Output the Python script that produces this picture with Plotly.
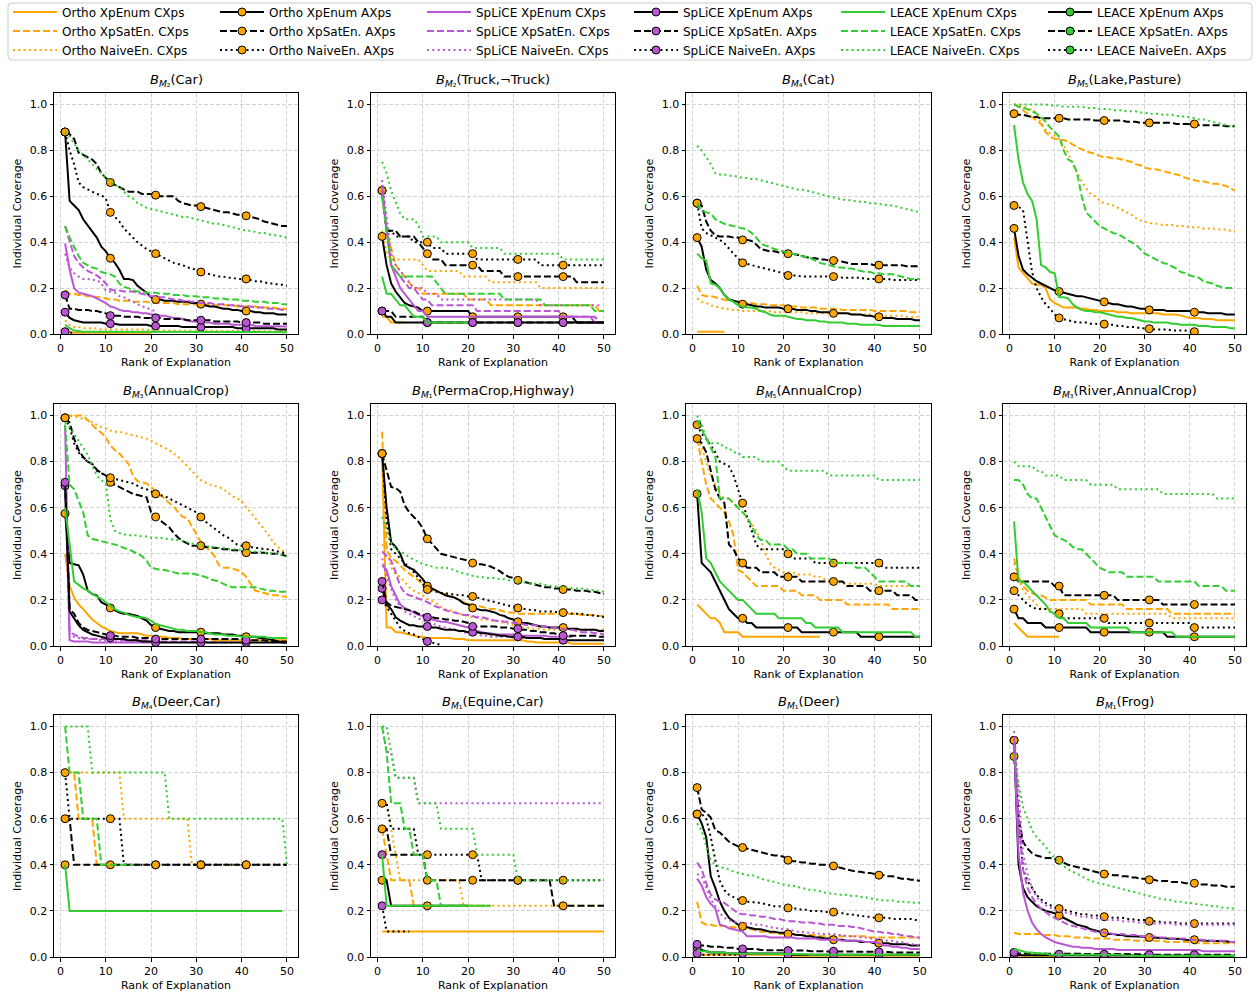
import plotly.graph_objects as go

W, H = 1256, 993

# Coverage values in percent; list index 0 = rank 1.
# Keys: method (O=Ortho, S=SpLiCE, L=LEACE) + variant (E=XpEnum, S=XpSatEn., N=NaiveEn.) + _C (CXps) / _A (AXps)

P_CAR = {
    "OE_C": [1.5, 1, 0.5, 0.5, 0.5, 0.5, 0.5, 0.5, 0.5, 0.5, 0.5, 0.5, 0.5, 0.5, 0.5, 0.5, 0.5, 0.5, 0.5, 0.5],
    "OS_C": [19, 17.5, 17.5, 17, 17, 16.5, 16.5, 16, 16, 15.5, 15, 15, 14.5, 14.5, 14.5, 14, 14, 14, 14, 13.5,
             13.5, 13.5, 13.5, 13.5, 13.5, 13, 13, 13, 13, 13, 13, 13, 13, 12.5, 12.5, 12.5, 12.5, 12.5, 12, 12,
             12, 12, 12, 11.5, 11.5, 11.5, 11.5, 11, 11, 11],
    "ON_C": [6, 4, 3, 3, 2.5, 2.5, 2.5, 2.5, 2, 2, 2, 2, 2, 2, 2, 2, 2, 2, 2, 1.5,
             1.5, 1.5, 1.5, 1.5, 1.5, 1.5, 1.5, 1.5, 1.5, 1.5, 1.5, 1.5, 1.5, 1.5, 1.5, 1.5, 1.5, 1.5, 1.5, 1.5,
             1.2, 1.2, 1.2, 1.2, 1.2, 1.2, 1.2, 1.2, 1.2, 1.2],
    "OE_A": [88, 58, 56, 54, 50, 47.5, 45, 42, 38, 36, 33, 31, 28, 24, 24, 23.5, 21, 19.5, 18, 16,
             15, 15, 14.5, 14.5, 14.5, 14, 14, 14, 13.5, 13.5, 13, 12.5, 12, 12, 11.5, 11, 11, 10.5, 10.5, 10,
             10, 10, 9.5, 9.5, 9, 9, 9, 8.5, 8.5, 8.5],
    "OS_A": [88, 87, 85, 79, 78, 77, 76, 74, 70, 68, 66, 65, 64, 63, 62, 62, 62, 61, 61, 61,
             60.5, 60, 60, 60, 60, 58, 57, 56.5, 56, 56, 55.5, 55, 54.5, 54, 53.5, 53, 53, 52.5, 52, 52,
             51.5, 51, 50.5, 50, 49, 48.5, 48, 47.5, 47, 47],
    "ON_A": [88, 80, 74, 66, 64, 63, 62, 61, 60.5, 59, 53, 51, 49, 46, 44, 42, 40, 38.5, 37, 36,
             35, 34, 33, 32, 31, 30.5, 30, 29, 28.5, 28, 27, 26.5, 26, 25.5, 25, 25, 24.5, 24.5, 24, 24,
             24, 23.5, 23, 23, 22.5, 22, 22, 21.5, 21.5, 21],
    "SE_C": [39.5, 28, 20, 18, 17.5, 17, 16.5, 15.5, 14.5, 13.5, 12, 11.5, 10.5, 10, 10, 9.5, 9.5, 9, 9, 8.5,
             8.5, 8, 8, 7.5, 7, 7, 6.5, 6, 5.5, 5.5, 5, 5, 5, 4.5, 4.5, 4.5, 4.5, 4, 4, 4,
             4, 4, 3.5, 3.5, 3.5, 3.5, 3.5, 3.5, 3.5, 3.3],
    "SS_C": [47, 41, 34, 31, 29, 27.5, 26.5, 25.5, 24, 22, 19.5, 19, 19, 18.5, 18.5, 18.5, 18, 17.5, 17, 16.5,
             16.5, 16, 16, 15.5, 15, 15, 14.5, 14.5, 14, 14, 13.5, 13.5, 13.5, 13, 13, 13, 12.5, 12.5, 12.5, 12,
             12, 12, 11.5, 11.5, 11.5, 11, 11, 11, 10.5, 10.5],
    "SN_C": [35, 29, 26.5, 25, 24, 24, 23.5, 23.5, 22, 19, 18.5, 18, 16.5, 16, 15, 14, 13, 12, 11.5, 10.5, 10],
    "SE_A": [9.5, 7, 6, 5.5, 5, 5, 5, 5, 5, 4.5, 4.5, 4.5, 4, 4, 4, 4, 4, 4, 4, 3.5,
             3.5, 3.5, 3.5, 3.5, 3.5, 3.5, 3, 3, 3, 3, 3, 3, 3, 3, 3, 3, 3, 3, 2.5, 2.5,
             2.5, 2.5, 2.5, 2.5, 2.5, 2.5, 2.5, 2, 2, 2],
    "SS_A": [17, 11, 11, 10.5, 10.5, 10.5, 10, 10, 9.5, 9, 8, 8, 8, 7.5, 7.5, 7.5, 7.5, 7, 7, 7,
             7, 7, 6.5, 6.5, 6.5, 6.5, 6.5, 6, 6, 6, 6, 6, 6, 5.5, 5.5, 5.5, 5.5, 5.5, 5.5, 5,
             5, 5, 5, 5, 4.5, 4.5, 4.5, 4.5, 4.5, 4.5],
    "SN_A": [1, 0.5, 0.5],
    "LE_C": [4, 2.5, 1.5, 1.2, 1, 1, 1, 1, 1, 1, 1, 1, 1, 1, 1, 1, 1, 1, 1, 1,
             0.8, 0.8, 0.8, 0.8, 0.8, 0.8, 0.8, 0.8, 0.8, 0.8, 0.8, 0.8, 0.8, 0.8, 0.8, 0.8, 0.8, 0.8, 0.8, 0.8,
             0.8, 0.8, 0.8, 0.8, 0.8, 0.8, 0.8, 0.8, 0.8, 0.8],
    "LS_C": [47, 42, 38, 34, 31, 30, 29, 28.5, 27, 26.5, 26, 25, 22, 20.5, 20, 19, 18.5, 18.5, 18, 18,
             18, 17.5, 17.5, 17.5, 17, 17, 17, 16.5, 16.5, 16.5, 16, 16, 16, 15.5, 15.5, 15.5, 15, 15, 15, 14.5,
             14.5, 14.5, 14, 14, 14, 13.5, 13.5, 13.5, 13, 13],
    "LN_C": [88, 86, 83, 80, 78, 76, 74, 72, 70, 68, 66, 65, 64, 62, 60, 59, 57, 56, 55, 54.5,
             54, 53.5, 53, 52.5, 52, 51.5, 51, 51, 50.5, 50, 49.5, 49, 48.5, 48, 48, 47.5, 47, 46.5, 46, 45.5,
             45, 45, 44.5, 44, 44, 43.5, 43, 43, 42.5, 42],
}

P_TRUCK = {
    "OE_C": [7.5, 7.5, 5, 5, 5, 5],
    "OS_C": [60, 45, 37.5, 30, 27.5, 25, 22.5, 20, 20, 17.5, 17.5, 17.5, 17.5, 17.5, 17.5, 17.5, 17.5, 17.5, 17.5, 15,
             15, 15, 15, 15, 12.5, 12.5, 12.5, 12.5, 12.5, 12.5, 12.5, 12.5, 12.5, 12.5, 12.5, 12.5, 12.5, 12.5, 12.5, 12.5,
             12.5, 12.5, 12.5, 12.5, 12.5, 12.5, 12.5, 12.5, 10, 10],
    "ON_C": [45, 35, 32.5, 32.5, 32.5, 32.5, 32.5, 32.5, 32.5, 30, 27.5, 27.5, 27.5, 27.5, 27.5, 27.5, 27.5, 27.5, 25, 25,
             25, 25, 25, 25, 22.5, 22.5, 22.5, 22.5, 22.5, 22.5, 22.5, 22.5, 22.5, 22.5, 22.5, 20, 20, 20, 20, 20,
             20, 20, 20, 20, 20, 20, 20, 20, 20, 20],
    "OE_A": [42.5, 30, 22, 18.5, 16, 13.5, 12.5, 12, 11.5, 10, 10, 10, 10, 10, 10, 10, 10, 10, 10, 10,
             7.5, 7.5, 7.5, 7.5, 7.5, 7.5, 7.5, 7.5, 7.5, 7.5, 7.5, 7.5, 7.5, 7.5, 7.5, 7.5, 7.5, 7.5, 7.5, 7.5,
             7.5, 7.5, 7.5, 5, 5, 5, 5, 5, 5, 5],
    "OS_A": [62.5, 45, 45, 45, 42.5, 42.5, 42.5, 42.5, 40, 37.5, 35, 32.5, 32.5, 32.5, 30, 30, 30, 30, 30, 30,
             30, 30, 27.5, 27.5, 27.5, 27.5, 27.5, 25, 25, 25, 25, 25, 25, 25, 25, 25, 25, 25, 25, 25,
             25, 25, 25, 22.5, 22.5, 22.5, 22.5, 22.5, 22.5, 22.5],
    "ON_A": [62.5, 45, 45, 42.5, 42.5, 42.5, 42.5, 40, 40, 40, 40, 37.5, 37.5, 37.5, 35, 35, 35, 35, 35, 35,
             35, 32.5, 32.5, 32.5, 32.5, 32.5, 32.5, 32.5, 32.5, 32.5, 32.5, 32.5, 32.5, 32.5, 32.5, 30, 30, 30, 30, 30,
             30, 30, 30, 30, 30, 30, 30, 30, 30, 30],
    "SE_C": [65, 45, 30, 25, 20, 17.5, 15, 12.5, 10, 10, 7.5, 7.5, 7.5, 7.5, 7.5, 7.5, 7.5, 7.5, 7.5, 7.5,
             7.5, 7.5, 7.5, 7.5, 7.5, 7.5, 7.5, 7.5, 7.5, 7.5, 7.5, 7.5, 7.5, 7.5, 7.5, 7.5, 7.5, 7.5, 7.5, 7.5,
             7.5, 7.5, 7.5, 7.5, 7.5, 7.5, 7.5, 5, 5, 5],
    "SS_C": [62.5, 45, 30, 27.5, 25, 22.5, 20, 20, 17.5, 15, 15, 12.5, 12.5, 12.5, 12.5, 12.5, 12.5, 12.5, 12.5, 12.5,
             12.5, 10, 10, 10, 10, 10, 10, 10, 10, 10, 10, 10, 10, 10, 10, 10, 10, 10, 10, 10,
             7.5, 7.5, 7.5, 7.5, 7.5, 7.5, 7.5, 7.5, 5, 5],
    "SN_C": [67, 50, 35, 30, 27.5, 25, 22.5, 20, 20, 20, 17.5, 17.5, 17.5, 15, 15, 15, 15, 15, 15, 15,
             15, 15, 15, 15, 15, 15, 15, 15, 15, 15, 15, 15, 15, 15, 15, 12.5, 12.5, 12.5, 12.5, 12.5,
             12.5, 12.5, 12.5, 12.5, 12.5, 12.5, 12.5, 12.5, 12.5],
    "SE_A": [10, 7.5, 7.5, 5, 5, 5, 5, 5, 5, 5, 5, 5, 5, 5, 5, 5, 5, 5, 5, 5,
             5, 5, 5, 5, 5, 5, 5, 5, 5, 5, 5, 5, 5, 5, 5, 5, 5, 5, 5, 5,
             5, 5, 5, 5, 5, 5, 5, 5, 5, 5],
    "SS_A": [10, 10, 10, 7.5, 7.5, 7.5, 7.5, 7.5, 7.5, 7.5, 5, 5, 5, 5, 5, 5, 5, 5, 5, 5,
             5, 5, 5, 5, 5, 5, 5, 5, 5, 5, 5, 5, 5, 5, 5, 5, 5, 5, 5, 5,
             5, 5, 5, 5, 5, 5, 5, 5, 5, 5],
    "LE_C": [25, 17.5, 17.5, 15, 12.5, 12.5, 10, 7.5, 7.5, 7.5, 5, 5, 5, 5, 5, 5, 5, 5, 5, 5],
    "LS_C": [60, 45, 30, 27.5, 25, 25, 25, 25, 25, 25, 25, 25, 22.5, 20, 17.5, 17.5, 17.5, 17.5, 17.5, 17.5,
             17.5, 17.5, 17.5, 17.5, 17.5, 17.5, 17.5, 15, 15, 15, 15, 15, 15, 15, 15, 15, 12.5, 12.5, 12.5, 12.5,
             12.5, 12.5, 12.5, 12.5, 12.5, 12.5, 12.5, 10, 10, 10],
    "LN_C": [75, 70, 62.5, 57.5, 52.5, 50, 50, 50, 47.5, 42.5, 42.5, 42.5, 42.5, 40, 40, 40, 40, 40, 40, 40,
             37.5, 37.5, 37.5, 37.5, 37.5, 37.5, 37.5, 35, 35, 35, 35, 35, 35, 35, 35, 35, 35, 35, 35, 35,
             32.5, 32.5, 32.5, 32.5, 32.5, 32.5, 32.5, 32.5, 32.5, 32.5],
}

P_CAT = {
    "OE_C": [1, 1, 1, 1, 1, 1, 1],
    "OS_C": [21, 17, 16.5, 16.5, 16, 15.5, 15, 14.5, 14.5, 14, 14, 13.5, 13.5, 13, 13, 13, 12.5, 12.5, 12.5, 12.5,
             12, 12, 12, 11.5, 11.5, 11.5, 11.5, 11, 11, 11, 11, 11, 10.5, 10.5, 10.5, 10.5, 10.5, 10.5, 10.5, 10,
             10, 10, 10, 10, 10, 10, 10, 9.5, 9.5, 9.5],
    "ON_C": [15.5, 14, 13.5, 12.5, 12, 11.5, 11, 11, 10.5, 10.5, 10, 10, 10, 10, 10, 10, 10, 9.5, 9.5, 9.5,
             9.5, 9.5, 9.5, 9.5, 9, 9, 9, 9, 9, 9, 9, 9, 9, 9, 9, 8.5, 8.5, 8.5, 8.5, 8.5,
             8.5, 8, 8, 8, 8, 8, 7.5, 7.5, 7.5, 7.5],
    "OE_A": [42, 38, 28, 23.5, 22, 20, 17, 15, 14.5, 14, 13, 13, 12.5, 12, 12, 11.5, 11.5, 11.5, 11.5, 11,
             11, 11, 10.5, 10.5, 10.5, 10, 10, 9.5, 9.5, 9.5, 9, 9, 9, 9, 8.5, 8.5, 8.5, 8, 8, 7.5,
             7.5, 7, 7, 7, 6.5, 6.5, 6.5, 6.5, 6, 6],
    "OS_A": [57, 56, 49, 45, 43, 42.5, 42.5, 42.5, 42, 42, 41, 41, 40.5, 39, 37, 36.5, 36, 36, 35.5, 35.5,
             35, 35, 34.5, 34, 33.5, 33, 33, 32.5, 32.5, 32, 32, 32, 31.5, 31, 30.5, 30.5, 30.5, 30.5, 30.5, 30,
             30, 30, 30, 30, 30, 30, 29.5, 29.5, 29.5, 29.5],
    "ON_A": [57, 46, 44, 43, 42, 41, 39.5, 37, 35, 33, 31, 30.5, 30, 29.5, 29, 28.5, 28, 27.5, 27, 26.5,
             25.5, 25.5, 25.5, 25, 25, 25, 25, 25, 25, 25, 25, 25, 24.5, 24.5, 24.5, 24.5, 24.5, 24, 24, 24,
             24, 24, 24, 23.5, 23.5, 23.5, 23.5, 23.5, 23.5, 23.5],
    "LE_C": [35, 33, 32, 22, 21.5, 20, 17, 15, 14, 12.5, 12, 11.5, 11.5, 11, 10, 9.5, 8.5, 8, 8, 8,
             7.5, 7, 6.5, 6.5, 6, 6, 6, 5.5, 5.5, 5, 5, 5, 5, 4.5, 4.5, 4.5, 4, 4, 4, 4,
             4, 3.5, 3.5, 3.5, 3.5, 3.5, 3.5, 3.5, 3.5, 3.5],
    "LS_C": [57, 54, 53, 52.5, 50, 49, 48, 47.5, 47, 46.5, 46, 45.5, 44, 42, 39.5, 38.5, 38, 37, 36.5, 36,
             35.5, 35, 34.5, 34, 33.5, 33, 32, 31, 30.5, 30, 29.5, 29, 29, 28.5, 28.5, 28, 27.5, 27, 27, 26.5,
             26.5, 26, 26, 26, 25.5, 25, 24.5, 24, 24, 24],
    "LN_C": [82, 80, 77, 74, 70, 69.5, 69.5, 69, 69, 68.5, 68, 68, 67.5, 67.5, 67, 66.5, 66, 65.5, 65, 64.5,
             64, 63.5, 63, 63, 62.5, 62, 61.5, 61, 60.5, 60, 59.5, 59, 58.5, 58.5, 58, 58, 57.5, 57.5, 57, 57,
             56.5, 56.5, 56, 56, 55.5, 55, 54.5, 54, 53.5, 53],
}

P_LAKE = {
    "OE_C": [42, 29, 26.5, 24, 22, 21.5, 21.5, 20, 15, 13.5, 12.5, 11.5, 11.5, 11.5, 11.5, 11, 11, 10.5, 10.5, 10,
             10, 10, 10, 9.5, 9.5, 9.5, 9, 9, 9, 9, 9, 9, 9, 8.5, 8.5, 8.5, 8.5, 8, 7.5, 7,
             7, 7, 6.5, 6.5, 6.5, 6, 6, 6, 6, 6],
    "OS_C": [100, 99, 97.5, 96, 94.5, 93, 91.5, 88, 86, 85, 84.5, 84.5, 84, 82.5, 81.5, 80.5, 79.5, 79, 78.5, 77.5,
             77, 77, 76.5, 76.5, 76, 75.5, 75, 74, 73.5, 72.5, 72, 72, 71.5, 71, 70.5, 70, 69.5, 69, 68, 67.5,
             67, 66.5, 66.5, 66, 65.5, 65.5, 65, 64.5, 63.5, 62.5],
    "ON_C": [100, 99.5, 99, 98.5, 97.5, 96.5, 92, 89, 87.5, 86.5, 85, 82, 79, 74, 70, 66.5, 63.5, 61, 60, 58,
             57, 56.5, 56, 55, 54, 53, 52, 50.5, 49.5, 49, 48.5, 48, 48, 47.5, 47.5, 47.5, 47, 47, 47, 46.5,
             46.5, 46.5, 46, 46, 46, 45.5, 45.5, 45.5, 45, 45],
    "OE_A": [46, 34, 28, 26, 24.5, 23, 22, 21, 20, 19, 18.5, 18, 17.5, 17, 16.5, 16.5, 16, 15.5, 15, 14.5,
             14, 13.5, 13, 13, 12.5, 12, 12, 11.5, 11, 11, 10.5, 10.5, 10.5, 10.5, 10, 10, 10, 10, 10, 10,
             9.5, 9.5, 9.5, 9, 9, 9, 9, 8.5, 8.5, 8.5],
    "OS_A": [96, 95.5, 95.5, 95, 94.5, 94.5, 94, 94, 94, 94, 94, 94, 93.5, 93.5, 93.5, 93.5, 93.5, 93.5, 93, 93,
             93, 93, 93, 93, 93, 92.5, 92.5, 92.5, 92, 92, 92, 92, 92, 92, 92, 92, 91.5, 91.5, 91.5, 91.5,
             91.5, 91, 91, 91, 91, 91, 91, 90.5, 90.5, 90.5],
    "ON_A": [56, 55.5, 54, 40, 27, 20, 16, 13, 11, 8.5, 7, 6.5, 6, 5.5, 5, 5, 5, 4.5, 4.5, 4.5,
             4.3, 4, 4, 3.5, 3.5, 3, 3, 3, 2.5, 2.5, 2.3, 2, 2, 2, 2, 1.5, 1.5, 1.5, 1.5, 1,
             1, 1],
    "LE_C": [91, 76, 66, 61, 58, 50, 30, 29, 27, 26.5, 16, 16, 15.5, 13, 11.5, 10.5, 10, 10, 9.5, 9.5,
             9, 8.5, 8, 7.5, 7.5, 7, 7, 6.5, 6, 5.5, 5.5, 5, 5, 5, 5, 4.5, 4.5, 4, 4, 4,
             4, 3.5, 3.5, 3.5, 3, 3, 3, 3, 2.5, 2.5],
    "LS_C": [100, 99, 98.5, 98, 97, 96, 94.5, 92.5, 90, 88, 86, 80, 76, 75, 70, 60, 53, 51, 49, 47,
             46, 45, 44, 43.5, 42.5, 41, 40, 39, 37, 35, 34, 33, 32, 31, 30.5, 29.5, 28.5, 27, 26.5, 25.5,
             25, 24.5, 23, 22.5, 22, 21, 20.5, 20, 20, 20],
    "LN_C": [100, 100, 100, 100, 100, 100, 100, 100, 99.5, 99.5, 99.5, 99, 99, 99, 99, 99, 98.5, 98.5, 98.5, 98,
             98, 98, 97.5, 97.5, 97.5, 97, 97, 97, 96.5, 96.5, 96, 96, 96, 95.5, 95.5, 95.5, 95, 95, 94.5, 94.5,
             94, 93.5, 93.5, 93, 92.5, 92, 91.5, 91, 90.5, 90.5],
}

P_ANNUAL3 = {
    "OE_C": [40, 26, 21, 18, 16, 13.5, 11.5, 10, 8.5, 7.5, 6.5, 6, 5.5, 5.5, 5.5, 5.5, 5.5, 5, 4.5, 4.5,
             4, 4, 4, 3.5, 3.5, 3.5, 3, 3, 3, 3, 3, 3, 3, 2.5, 2.5, 2.5, 2.5, 2.5, 2.5, 2.5,
             2.5, 2.5, 2.5, 2.5, 2.5, 2.5, 2.5, 2.5, 2.5, 2.5],
    "OS_C": [100, 100, 100, 100, 100, 98, 96, 94, 92.5, 90.5, 87, 85, 83.5, 81, 79, 74, 71.5, 71, 70.5, 69,
             67, 65.5, 64, 62, 60.5, 58, 56, 55.5, 52, 48, 45, 43, 41.5, 39, 35, 34, 34, 33.5, 33, 32,
             30, 27, 24, 23.5, 23, 22.5, 22, 22, 21.5, 21.5],
    "ON_C": [100, 100, 99.5, 99, 98.5, 98, 97, 96, 95, 94.5, 93.5, 93, 93, 92.5, 92, 91.5, 91, 90.5, 90, 89,
             88, 87, 86, 85, 83.5, 82, 80, 78, 76, 74, 72, 71, 70, 69.5, 69, 68, 66.5, 65, 64, 63,
             60, 58, 55.5, 53, 51, 48, 45, 43, 41.5, 40],
    "OE_A": [57.5, 36, 35.5, 35, 31, 24, 22.5, 22, 19, 18, 16.5, 15.5, 14.5, 14, 14, 13.5, 13, 12, 11, 9,
             8, 7.5, 7, 6.5, 6.5, 6, 6, 6, 6, 6, 6, 5.5, 5.5, 5.5, 5.5, 5, 5, 5, 4.5, 4.5,
             4, 4, 4, 3.5, 3.5, 3, 2.5, 2, 1.5, 1.5],
    "OS_A": [99, 97, 90, 85, 82, 80, 79, 76.5, 75, 74, 71, 70, 69, 68, 67, 66, 65.5, 65, 64.5, 58,
             56, 54.5, 53, 51.5, 49, 47, 45.5, 44.5, 43.5, 43.5, 43.5, 43, 43, 42.5, 42.5, 42, 42, 41.5, 41.5, 41,
             40.5, 40.5, 40.5, 40.5, 40.5, 40, 40, 40, 39.5, 39],
    "ON_A": [99, 95, 88, 84, 81.5, 80, 79, 76, 75, 74, 73, 72.5, 72, 71.5, 71, 70.5, 69.5, 68.5, 68, 67,
             66, 65.5, 65, 64, 63, 62, 61, 60, 59, 58, 56, 54, 52.5, 51, 49.5, 48, 47, 45.5, 44, 43.5,
             43.5, 43, 42.5, 42.5, 42, 42, 41.5, 41, 40.5, 40],
    "SE_C": [96, 2.5, 2, 2, 2, 2, 1.5, 1.5, 1.5, 1.5, 1.5, 1.5, 1.5, 1.5, 1.5, 1.5, 1.5, 1.5, 1.5, 1.5],
    "SS_C": [70, 6, 5, 4, 3.5, 3.5, 3, 3, 3, 3, 3, 3, 2.5, 2.5, 2.5, 2.5, 2.5, 2.5, 2.5, 2,
             2, 2, 2, 2, 2, 2, 2, 2, 2, 2, 2, 2, 1.5, 1.5, 1.5, 1.5, 1.5, 1.5],
    "SN_C": [70, 5, 4, 3.5, 3, 3, 3, 3, 2.5, 2.5, 2.5, 2, 2, 2, 2, 2, 2, 2, 2, 2],
    "SE_A": [69.5, 15, 12, 9, 7, 6, 5, 4.5, 4, 3.5, 3.5, 3, 3, 3, 2.5, 2.5, 2.5, 2, 2, 2,
             1.5, 1.5, 1.5, 1.5, 1.5, 1.5, 1.5, 1.5, 1.5, 1.5, 1.5, 1.5, 1.5, 1.5, 1.5, 1.5, 1.5, 1.5, 1.5, 1.5,
             1.5, 1.5, 1.5, 1.5, 1.5, 1.5, 1.5, 1.5, 1.5, 1.5],
    "SS_A": [71, 16, 14, 10, 8, 7, 6.5, 6, 5.5, 5, 4.5, 4.5, 4, 4, 4, 4, 3.5, 3.5, 3.5, 3.5,
             3, 3, 3, 3, 3, 3, 3, 3, 3, 3, 3, 3, 3, 3, 3, 3, 3, 3, 3, 3,
             2.5, 2.5, 2.5, 2.5, 2.5, 2, 2, 2, 2, 2],
    "LE_C": [60, 45, 28, 26.5, 25, 24, 22.5, 21.5, 20.5, 19, 17.5, 16, 15, 14.5, 13.5, 13, 12.5, 12.5, 12, 11,
             9.5, 9, 8.5, 8, 7.5, 7, 7, 6.5, 6.5, 6.5, 6, 6, 5.5, 5, 5, 5, 4.5, 4.5, 4.5, 4,
             4, 4, 4, 4, 4, 3.5, 3.5, 3.5, 3.5, 3.5],
    "LS_C": [96, 70, 68, 63, 58, 48, 46.5, 46, 45.5, 45, 44.5, 44, 43.5, 42.5, 42, 41, 40, 39, 37, 34,
             33.5, 33, 33, 32.5, 32, 31.5, 31.5, 31.5, 31.5, 31, 30.5, 30, 29, 28.5, 28, 27, 26, 25.5, 25.5, 25.5,
             25.5, 25.5, 25.5, 25, 24.5, 24, 24, 23.5, 23.5, 23.5],
    "LN_C": [97, 95, 92, 89, 86, 83, 78, 74, 72, 70.5, 55, 50, 49, 48.5, 48, 48, 48, 47.5, 47.5, 47,
             47, 47, 46.5, 46.5, 46, 46, 45.5, 45, 44.5, 44, 43.5, 43.5, 43, 43, 42.5, 42.5, 42, 42, 42, 41.5,
             41.5, 41, 41, 41, 40.5, 40.5, 40, 40, 39.5, 39],
}

P_PERMA = {
    "OE_C": [83, 8, 8, 6, 6, 5.5, 5, 4.5, 4, 4, 3.5, 3.5, 3.5, 3.5, 3.5, 3.5, 3, 3, 3, 2.5,
             2.5, 2.5, 2.5, 2.5, 2.5, 2.5, 2.5, 2.5, 2.5, 2.5, 2.5, 2.5, 2, 2, 1.5, 1.5, 1.5, 1.5, 1.5, 1.5,
             1.5, 1.5, 1, 1, 1, 1, 1, 1, 1, 1],
    "OS_C": [93, 42, 38, 37, 35, 33, 31.5, 30, 28.5, 27, 25, 24.5, 24, 23, 22.5, 22, 21, 20, 19, 18.5,
             18, 17.5, 17, 16.5, 16, 16, 15.5, 15, 14.5, 14.5, 14, 14, 14, 14, 14, 14, 14, 14, 14, 14,
             14, 14, 14, 14, 13.5, 13.5, 13.5, 13.5, 13, 13],
    "ON_C": [44, 43, 34, 31, 30, 27.5, 25.5, 24, 23, 22, 20.5, 19.5, 18.5, 17, 16, 15.5, 15, 14, 13.5, 13,
             12.5, 12, 11.5, 11.5, 11, 11, 10.5, 10, 9.5, 9, 8.5, 8, 8, 7.5, 7.5, 7.5, 7, 7, 7, 7,
             7, 7, 7, 7, 7, 7, 7, 7, 7, 7],
    "OE_A": [83.5, 60, 45, 43, 40, 35, 34, 33, 31, 29, 26, 25, 24, 23, 22, 21.5, 21, 20, 18.5, 18,
             16.5, 16, 15.5, 15.5, 15, 14.5, 13.5, 13, 12, 11.5, 10.5, 10, 10, 9.5, 9, 8.5, 8.5, 8, 8, 8,
             8, 7.5, 7.5, 7.5, 7, 7, 7, 7, 6.5, 6.5],
    "OS_A": [83.5, 76, 69, 68.5, 67, 61, 58, 56, 54, 51, 46.5, 44.5, 42, 40, 39.5, 39, 38.5, 38, 37.5, 37,
             36, 35.5, 35.5, 35, 34.5, 33.5, 32.5, 31, 30, 29.5, 28.5, 28, 27.5, 27, 26.5, 26, 25.5, 25.5, 25, 25,
             24.5, 24.5, 24.5, 24, 24, 24, 23.5, 23.5, 23, 22.5],
    "ON_A": [83.5, 55, 42, 40, 38, 36, 34, 32, 29.5, 27, 24.5, 24, 23.5, 23, 23, 22.5, 22.5, 22, 22, 21.5,
             21.5, 21, 20.5, 20, 19.5, 19, 18.5, 18, 17.5, 17, 16.5, 16, 16, 15.5, 15.5, 15, 15, 15, 15, 14.5,
             14.5, 14.5, 14, 14, 14, 13.5, 13.5, 13, 13, 12.5],
    "SE_C": [35, 33, 26, 22, 18, 16.5, 15.5, 14.5, 13.5, 13, 12, 11.5, 11, 10.5, 10.5, 10, 9.5, 9, 8.5, 8,
             7, 6.5, 6, 5.5, 5.5, 5, 5, 5, 5, 5, 4.5, 4.5, 4.5, 4.5, 4.5, 4.5, 4.5, 4, 4, 4,
             4, 4, 4],
    "SS_C": [41, 39, 37, 32, 26, 23, 22, 21.5, 20.5, 20, 19, 18, 17, 16.5, 15.5, 15, 14.5, 14, 13.5, 13.5,
             13, 12.5, 12.5, 12, 11.5, 11, 11, 10.5, 10.5, 10, 10, 9.5, 9, 9, 9, 8.5, 8.5, 8, 8, 7.5,
             7.5, 7, 7, 6.5, 6, 6, 6, 5.5, 5.5, 5],
    "SN_C": [38, 30, 25, 20, 17, 15, 14, 13, 12, 11, 10.5, 10, 9, 8.5, 8, 7.5, 7, 6.5, 6, 5.5,
             5, 5, 4.5, 4.5, 4, 4, 4, 4, 4, 3.5, 3.5, 3.5, 3.5, 3.5, 3.5],
    "SE_A": [25, 18, 16, 12.5, 11, 10, 9, 9, 8.5, 8.5, 8.5, 8, 8, 7.5, 7, 7, 7, 6.5, 6.5, 6,
             6, 6, 5.5, 5.5, 5, 5, 4.5, 4.5, 4, 4, 4, 4, 3.5, 3.5, 3.5, 3.5, 3, 3, 3, 3,
             2.5, 2.5, 2.5, 2.5, 2.5, 2.5, 2.5, 2.5, 2.5, 2.5],
    "SS_A": [28, 19, 17.5, 17, 16.5, 16, 15.5, 15, 14, 13.5, 12.5, 12.5, 12, 12, 11.5, 11.5, 11, 11, 10.5, 10,
             8.5, 8.5, 8.5, 8.5, 8.5, 8.5, 8, 8, 8, 7.5, 7.5, 7, 7, 6.5, 6.5, 6, 6, 5.5, 5.5, 5,
             4.5, 4.5, 4.5, 4.5, 4.5, 4.5, 4.5, 4.5, 4, 4],
    "SN_A": [20, 17, 14, 11, 8, 6.5, 5.5, 5, 4, 3, 2, 1.5, 1, 0.5],
    "LN_C": [56, 50, 45, 42, 41, 40, 38.5, 37.5, 36.5, 35.5, 35, 34.5, 34, 34, 34, 33.5, 33, 32, 31.5, 31,
             30.5, 30, 30, 29.5, 29.5, 29.5, 29, 29, 28.5, 28.5, 28, 27.5, 27.5, 27, 27, 27, 26.5, 26, 26, 25.5,
             25.5, 25.5, 25, 25, 25, 24.5, 24.5, 24, 24, 23.5],
}

P_ANNUAL5 = {
    "OE_C": [18, 16, 14, 12, 12, 10, 6, 6, 6, 6, 4, 4, 4, 4, 4, 4, 4, 4, 4, 4,
             4, 4, 4, 4, 4, 4, 4, 4],
    "OS_C": [90, 80, 70, 64, 62, 60, 58, 54, 48, 33, 32, 30, 28, 26, 26, 26, 26, 26, 26, 24,
             24, 24, 24, 22, 22, 22, 22, 20, 20, 20, 20, 20, 20, 18, 18, 18, 18, 18, 18, 18,
             18, 18, 18, 16, 16, 16, 16, 16, 16, 16],
    "ON_C": [90, 86, 80, 74, 70, 66, 64, 64, 62, 60, 58, 55, 53, 50, 46, 40, 36, 34, 33, 32,
             32, 32, 31, 31, 31, 31, 30, 30, 29, 28, 28, 28, 27, 27, 27, 27, 27, 27, 27, 27,
             26, 26, 26, 26, 26, 26, 26, 26, 26, 26],
    "OE_A": [66, 36, 34, 32, 28, 24, 20, 16, 14, 12, 12, 10, 10, 8, 8, 8, 8, 8, 8, 8,
             8, 8, 8, 6, 6, 6, 6, 6, 6, 6, 6, 6, 6, 6, 6, 6, 4, 4, 4, 4,
             4, 4, 4, 4, 4, 4, 4, 4, 4, 4],
    "OS_A": [90, 88, 84, 76, 68, 64, 62, 44, 42, 38, 36, 34, 34, 34, 32, 32, 32, 32, 30, 30,
             30, 30, 30, 28, 28, 28, 28, 28, 28, 28, 28, 28, 28, 26, 26, 26, 26, 26, 24, 24,
             24, 24, 24, 24, 22, 22, 22, 22, 20, 20],
    "ON_A": [96, 92, 90, 87, 84, 80, 79, 78, 74, 68, 62, 57, 50, 44, 42, 42, 42, 42, 42, 42,
             40, 38, 38, 38, 38, 38, 36, 36, 36, 36, 36, 36, 36, 36, 36, 36, 36, 36, 36, 36,
             36, 34, 34, 34, 34, 34, 34, 34, 34, 34],
    "LE_C": [68, 58, 38, 36, 32, 28, 26, 24, 22, 20, 20, 18, 16, 14, 14, 14, 14, 14, 12, 12,
             12, 12, 12, 12, 10, 10, 8, 8, 8, 8, 8, 8, 6, 6, 6, 6, 6, 6, 6, 6,
             6, 6, 6, 6, 6, 6, 6, 6, 4, 4],
    "LS_C": [98, 94, 90, 86, 82, 64, 64, 64, 62, 60, 58, 56, 52, 48, 46, 46, 44, 44, 44, 44,
             42, 42, 40, 40, 40, 38, 38, 38, 38, 38, 36, 36, 36, 36, 36, 34, 34, 34, 32, 30,
             28, 28, 28, 28, 28, 28, 28, 26, 26, 26],
    "LN_C": [100, 96, 90, 88, 88, 88, 86, 86, 84, 84, 82, 82, 82, 82, 80, 80, 80, 80, 80, 78,
             76, 76, 76, 76, 76, 76, 76, 76, 76, 74, 74, 74, 74, 74, 74, 74, 74, 74, 74, 74,
             72, 72, 72, 72, 72, 72, 72, 72, 72, 72],
}

P_RIVER = {
    "OE_C": [10, 8, 6, 4, 4, 4, 4, 4, 4, 4, 4],
    "OS_C": [38, 30, 26, 24, 23, 22, 22, 21, 20, 20, 20, 20, 20, 20, 20, 20, 20, 18, 18, 18,
             18, 18, 18, 18, 18, 16, 16, 16, 16, 16, 16, 16, 16, 16, 16, 14, 14, 14, 14, 14,
             14, 14, 14, 14, 14, 14, 14, 14, 14, 14],
    "ON_C": [36, 30, 24, 22, 20, 18, 16, 16, 16, 16, 16, 16, 16, 16, 16, 16, 14, 14, 14, 14,
             14, 14, 14, 14, 14, 14, 14, 14, 14, 14, 14, 14, 14, 14, 14, 12, 12, 12, 12, 12,
             12, 12, 12, 12, 12, 12, 12, 12, 12, 12],
    "OE_A": [16, 12, 12, 10, 10, 10, 10, 8, 8, 8, 8, 8, 8, 8, 8, 8, 8, 6, 6, 6,
             6, 6, 6, 6, 6, 6, 6, 6, 6, 6, 6, 6, 6, 6, 4, 4, 4, 4, 4, 4,
             4, 4, 4, 4, 4, 4, 4, 4, 4, 4],
    "OS_A": [30, 28, 28, 28, 28, 28, 28, 28, 28, 26, 26, 22, 22, 22, 22, 22, 22, 22, 22, 22,
             22, 22, 22, 20, 20, 20, 20, 20, 20, 20, 20, 20, 20, 18, 18, 18, 18, 18, 18, 18,
             18, 18, 18, 18, 18, 18, 18, 18, 18, 18],
    "ON_A": [24, 22, 20, 18, 17, 16, 16, 16, 15, 14, 14, 12, 12, 12, 12, 12, 12, 12, 12, 12,
             12, 10, 10, 10, 10, 10, 10, 10, 10, 10, 10, 10, 10, 10, 10, 10, 10, 10, 10, 10,
             8, 8, 8, 8, 8, 8, 8, 8, 8, 8],
    "LE_C": [54, 28, 28, 26, 24, 22, 20, 18, 15, 14, 12, 12, 10, 10, 10, 10, 10, 8, 8, 8,
             8, 8, 8, 8, 8, 8, 6, 6, 6, 6, 6, 6, 6, 6, 6, 6, 4, 4, 4, 4,
             4, 4, 4, 4, 4, 4, 4, 4, 4, 4],
    "LS_C": [72, 72, 70, 66, 64, 64, 60, 56, 52, 48, 47, 46, 45, 43, 42, 42, 40, 38, 36, 34,
             33, 32, 32, 32, 32, 30, 30, 30, 30, 30, 30, 30, 28, 28, 28, 28, 28, 28, 28, 28,
             28, 26, 26, 26, 26, 26, 26, 24, 24, 24],
    "LN_C": [80, 78, 78, 78, 78, 76, 76, 74, 74, 74, 74, 72, 72, 72, 72, 72, 72, 70, 70, 70,
             70, 70, 70, 68, 68, 68, 68, 68, 68, 68, 68, 68, 68, 66, 66, 66, 66, 66, 66, 66,
             66, 66, 66, 66, 66, 64, 64, 64, 64, 64],
}

P_DEERCAR = {
    "OS_C": [80, 80, 80, 60, 60, 60, 60, 40, 40, 40],
    "ON_C": [80, 80, 80, 80, 80, 80, 80, 80, 80, 80, 80, 80, 80, 60, 60, 60, 60, 60, 60, 60,
             60, 60, 60, 60, 60, 60, 60, 60, 40, 40, 40, 40, 40, 40, 40, 40, 40, 40, 40, 40,
             40, 40, 40, 40, 40, 40, 40, 40, 40, 40],
    "OE_A": [40],
    "OS_A": [60, 60, 40, 40, 40, 40, 40, 40, 40, 40, 40, 40, 40, 40, 40, 40, 40, 40, 40, 40,
             40, 40, 40, 40, 40, 40, 40, 40, 40, 40, 40, 40, 40, 40, 40, 40, 40, 40, 40, 40,
             40, 40, 40, 40, 40, 40, 40, 40, 40, 40],
    "ON_A": [80, 60, 60, 60, 60, 60, 60, 60, 60, 60, 60, 60, 60, 40, 40, 40, 40, 40, 40, 40,
             40, 40, 40, 40, 40, 40, 40, 40, 40, 40, 40, 40, 40, 40, 40, 40, 40, 40, 40, 40,
             40, 40, 40, 40, 40, 40, 40, 40, 40, 40],
    "LE_C": [40, 20, 20, 20, 20, 20, 20, 20, 20, 20, 20, 20, 20, 20, 20, 20, 20, 20, 20, 20,
             20, 20, 20, 20, 20, 20, 20, 20, 20, 20, 20, 20, 20, 20, 20, 20, 20, 20, 20, 20,
             20, 20, 20, 20, 20, 20, 20, 20, 20],
    "LS_C": [100, 80, 80, 80, 60, 60, 60, 60, 40, 40, 40, 40, 40, 40, 40, 40],
    "LN_C": [100, 100, 100, 100, 100, 100, 80, 80, 80, 80, 80, 80, 80, 80, 80, 80, 80, 80, 80, 80,
             80, 80, 80, 60, 60, 60, 60, 60, 60, 60, 60, 60, 60, 60, 60, 60, 60, 60, 60, 60,
             60, 60, 60, 60, 60, 60, 60, 60, 60, 40],
}

P_EQUINE = {
    "OE_C": [11.1, 11.1, 11.1, 11.1, 11.1, 11.1, 11.1, 11.1, 11.1, 11.1, 11.1, 11.1, 11.1, 11.1, 11.1, 11.1, 11.1, 11.1, 11.1, 11.1,
             11.1, 11.1, 11.1, 11.1, 11.1, 11.1, 11.1, 11.1, 11.1, 11.1, 11.1, 11.1, 11.1, 11.1, 11.1, 11.1, 11.1, 11.1, 11.1, 11.1,
             11.1, 11.1, 11.1, 11.1, 11.1, 11.1, 11.1, 11.1, 11.1, 11.1],
    "OS_C": [55.6, 44.4, 33.3, 33.3, 33.3, 33.3, 33.3, 22.2, 22.2, 22.2, 22.2, 22.2, 22.2, 22.2, 22.2, 22.2, 22.2, 22.2, 22.2, 22.2,
             22.2, 22.2, 22.2, 22.2, 22.2],
    "ON_C": [66.7, 66.7, 55.6, 44.4, 33.3, 33.3, 33.3, 33.3, 33.3, 33.3, 33.3, 33.3, 33.3, 33.3, 33.3, 33.3, 33.3, 33.3, 22.2, 22.2,
             22.2, 22.2, 22.2, 22.2, 22.2, 22.2, 22.2, 22.2, 22.2, 22.2, 22.2, 22.2, 22.2, 22.2, 22.2, 22.2, 22.2, 22.2, 22.2, 22.2,
             22.2, 22.2, 22.2, 22.2, 22.2, 22.2, 22.2, 22.2, 22.2, 22.2],
    "OE_A": [33.3, 33.3, 22.2, 22.2, 22.2, 22.2, 22.2, 22.2, 22.2, 22.2, 22.2, 22.2, 22.2, 22.2, 22.2, 22.2, 22.2, 22.2, 22.2, 22.2],
    "OS_A": [55.6, 55.6, 44.4, 44.4, 44.4, 44.4, 44.4, 44.4, 44.4, 44.4, 33.3, 33.3, 33.3, 33.3, 33.3, 33.3, 33.3, 33.3, 33.3, 33.3,
             33.3, 33.3, 33.3, 33.3, 33.3, 33.3, 33.3, 33.3, 33.3, 33.3, 33.3, 33.3, 33.3, 33.3, 33.3, 33.3, 33.3, 33.3, 22.2, 22.2,
             22.2, 22.2, 22.2, 22.2, 22.2, 22.2, 22.2, 22.2, 22.2, 22.2],
    "ON_A": [66.7, 66.7, 55.6, 55.6, 55.6, 55.6, 55.6, 55.6, 44.4, 44.4, 44.4, 44.4, 44.4, 44.4, 44.4, 44.4, 44.4, 44.4, 44.4, 44.4,
             44.4, 44.4, 33.3, 33.3, 33.3, 33.3, 33.3, 33.3, 33.3, 33.3, 33.3, 33.3, 33.3, 33.3, 33.3, 33.3, 33.3, 33.3, 33.3, 33.3,
             33.3, 33.3, 33.3, 33.3, 33.3, 33.3, 33.3, 33.3, 33.3, 33.3],
    "SE_A": [44.4],
    "SN_A": [22.2, 11.1, 11.1, 11.1, 11.1, 11.1, 11.1],
    "SN_C": [100, 88.9, 88.9, 77.8, 77.8, 77.8, 77.8, 77.8, 66.7, 66.7, 66.7, 66.7, 66.7, 66.7, 66.7, 66.7, 66.7, 66.7, 66.7, 66.7,
             66.7, 66.7, 66.7, 66.7, 66.7, 66.7, 66.7, 66.7, 66.7, 66.7, 66.7, 66.7, 66.7, 66.7, 66.7, 66.7, 66.7, 66.7, 66.7, 66.7,
             66.7, 66.7, 66.7, 66.7, 66.7, 66.7, 66.7, 66.7, 66.7, 66.7],
    "LE_C": [44.4, 22.2, 22.2, 22.2, 22.2, 22.2, 22.2, 22.2, 22.2, 22.2, 22.2, 22.2, 22.2, 22.2, 22.2, 22.2, 22.2, 22.2, 22.2, 22.2,
             22.2, 22.2, 22.2, 22.2, 22.2],
    "LS_C": [100, 88.9, 66.7, 66.7, 66.7, 55.6, 55.6, 44.4, 44.4, 44.4, 33.3, 33.3, 33.3, 22.2, 22.2, 22.2, 22.2, 22.2, 22.2, 22.2],
    "LN_C": [100, 100, 88.9, 77.8, 77.8, 77.8, 77.8, 77.8, 66.7, 66.7, 66.7, 66.7, 66.7, 55.6, 55.6, 55.6, 55.6, 55.6, 55.6, 55.6,
             55.6, 44.4, 44.4, 44.4, 44.4, 44.4, 44.4, 44.4, 44.4, 44.4, 33.3, 33.3, 33.3, 33.3, 33.3, 33.3, 33.3, 33.3, 33.3, 33.3,
             33.3, 33.3, 33.3, 33.3, 33.3, 33.3, 33.3, 33.3, 33.3, 33.3],
}

P_DEER = {
    "OE_C": [1.5, 1, 1, 1, 1, 1, 1, 1, 1, 1, 1, 1, 1, 1, 1, 1, 1, 1, 1, 1,
             0.5, 0.5, 0.5, 0.5, 0.5, 0.5, 0.5, 0.5, 0.5, 0.5, 0.5, 0.5, 0.5, 0.5, 0.5, 0.5, 0.5, 0.5, 0.5, 0.5,
             0.5, 0.5, 0.5, 0.5, 0.5, 0.5, 0.5, 0.5, 0.5, 0.5],
    "OS_C": [24, 15, 14, 14, 13.5, 13.5, 13.5, 13, 13, 12.5, 12.5, 12, 12, 11.5, 11, 11, 10.5, 10.5, 10, 10,
             10, 10, 9.5, 9.5, 9.5, 9.5, 9.5, 9, 9, 9, 9, 9, 9, 9, 9, 9, 9, 9, 8.5, 8.5,
             8.5, 8.5, 8.5, 8.5, 8.5, 8.5, 8.5, 8.5, 8.5, 8.5],
    "OE_A": [62, 58, 52, 35, 30, 24, 20, 17, 15.5, 14, 13.3, 13, 12.5, 12, 12, 11.5, 11, 11, 10.5, 10.5,
             10, 10, 9.5, 9.5, 9, 9, 8.5, 8.5, 8, 8, 7.5, 7.5, 7.5, 7, 7, 7, 6.5, 6.5, 6.5, 6,
             6, 6, 6, 5.5, 5.5, 5.5, 5.5, 5, 5, 5],
    "OS_A": [73.5, 64, 62.5, 60.5, 55, 54, 52, 50, 49, 48, 47.5, 47, 46.5, 46, 45.5, 45, 44.5, 44, 44, 43.5,
             42, 41.5, 41.5, 41, 41, 40.5, 40.5, 40, 40, 40, 39.5, 39, 38.5, 38, 37.5, 37, 37, 36.5, 36.5, 36,
             35.5, 35.5, 35, 35, 34.5, 34, 34, 33.5, 33.5, 33],
    "ON_A": [62, 62, 60, 52, 42, 33, 29, 27, 26, 25, 24.5, 24, 24, 23.5, 23.5, 23, 22.5, 22, 22, 21.5,
             21.3, 21, 21, 20.5, 20.5, 20, 20, 20, 19.5, 19.5, 19.5, 19, 19, 18.5, 18.5, 18, 18, 17.5, 17.5, 17,
             17, 17, 17, 16.5, 16.5, 16.5, 16.5, 16.5, 16, 16],
    "SE_C": [34, 31, 26, 23, 21, 14, 13.5, 12.5, 12, 11.5, 11, 9, 9, 9, 9, 9, 8.5, 8.5, 8.5, 8.5,
             8.5, 8.5, 8, 8, 8, 8, 8, 7.5, 7.5, 7.5, 7.5, 7.5, 7, 7, 7, 7, 7, 6.5, 6.5, 6.5,
             6, 5, 5, 4.5, 4.5, 4, 4, 3.5, 3.5, 3.5],
    "SS_C": [41, 38, 32, 27, 25, 24, 23.5, 22, 20.5, 19, 18.5, 18.5, 18, 18, 17.5, 17.5, 17, 16.5, 16.5, 16,
             15.5, 15.5, 15.5, 15, 15, 15, 14.5, 14.5, 14, 14, 14, 13.5, 13.5, 13.5, 13, 13, 12.5, 12, 11.5, 11,
             11, 10.5, 10.5, 10, 10, 9.5, 9, 9, 8.5, 8.5],
    "SN_C": [36, 35, 30, 25, 22, 19, 17, 16, 15.5, 15, 15, 14.5, 14.5, 14, 14, 13.5, 13, 12.5, 12.5, 12,
             12, 11.5, 11, 11, 10.5, 10.5, 10.5, 10, 10, 10, 10, 9.5, 9.5, 9, 9, 9, 8.5, 8.5, 8, 8,
             7.5, 7.5, 7, 7, 6.5, 6.5, 6, 5.5, 5.5, 5],
    "SE_A": [4, 3, 2.5, 2, 2, 2, 2, 1.5, 1.5, 1.5, 1.5, 1.5, 1.5, 1.5, 1.5, 1.5, 1.5, 1.5, 1.5, 1.5,
             1, 1, 1, 1, 1, 1, 1, 1, 1, 1, 1, 1, 1, 1, 1, 1, 1, 1, 1, 1,
             1, 1, 1, 1, 1, 1, 1, 1, 1, 1],
    "SS_A": [5.5, 5, 5, 4.5, 4.5, 4.5, 4, 4, 4, 3.5, 3.5, 3.5, 3.5, 3.5, 3, 3, 3, 3, 3, 3,
             2.8, 2.8, 2.8, 2.8, 2.8, 2.5, 2.5, 2.5, 2.5, 2.5, 2.5, 2.5, 2.5, 2.5, 2.5, 2.5, 2.5, 2.5, 2.5, 2.5,
             2.2, 2.2, 2.2, 2, 2, 2, 2, 2, 2, 2],
    "SN_A": [1.5, 1, 1, 1, 1, 1, 1, 1, 1, 1],
    "LE_C": [3, 2.5, 2.5, 2, 2, 2, 2, 1.5, 1.5, 1.5, 1.5, 1.5, 1.5, 1.5, 1.5, 1.2, 1.2, 1.2, 1.2, 1.2,
             1.2, 1.2, 1.2, 1.2, 1.2, 1, 1, 1, 1, 1, 1, 1, 1, 1, 1, 1, 1, 1, 1, 1,
             1, 1, 1, 1, 1, 1, 1, 1, 1, 1],
    "LN_C": [58, 55, 48, 42, 40, 39, 38.5, 38, 37, 36.5, 36, 35.5, 35.5, 35, 34, 33.5, 33, 32.5, 32, 31.5,
             31, 31, 30.5, 30, 29.5, 29, 29, 28.5, 28, 27.5, 27.5, 27, 27, 27, 26.5, 26.5, 26, 26, 25.5, 25,
             25, 24.5, 24.5, 24.5, 24, 24, 24, 23.5, 23.5, 23.5],
}

P_FROG = {
    "OE_C": [1, 0.5, 0.5, 0.5, 0.5, 0.5, 0.5, 0.5, 0.5, 0.5],
    "OS_C": [10.5, 10, 10, 10, 10, 10, 10, 9.5, 9.5, 9.5, 9, 9, 9, 8.5, 8.5, 8.5, 8.5, 8, 8, 8,
             8, 8, 7.5, 7.5, 7.5, 7.5, 7.5, 7, 7, 7, 7, 7, 7, 7, 6.5, 6.5, 6.5, 6.5, 6.5, 6.5,
             6, 6, 6, 6, 6, 6, 6, 6, 6, 6],
    "OE_A": [94, 40, 30, 26, 24, 22, 21, 20, 19.5, 19, 18, 17, 16, 15, 14, 13.5, 13, 12, 11.5, 11,
             10.5, 10, 10, 9.5, 9.5, 9, 9, 9, 8.8, 8.8, 8.5, 8.5, 8.2, 8.2, 8, 8, 7.8, 7.8, 7.5, 7.5,
             7.5, 7.2, 7.2, 7, 7, 7, 6.8, 6.8, 6.5, 6.5],
    "OS_A": [94, 60, 50, 47, 45, 44, 43.5, 43, 43, 42.5, 42, 41, 40, 39.5, 39, 38.5, 38, 37.5, 37, 36.5,
             36, 36, 35.5, 35.5, 35, 35, 34.5, 34.5, 34, 34, 33.5, 33.5, 33, 33, 33, 32.5, 32.5, 32.5, 32, 32,
             32, 31.5, 31.5, 31.5, 31, 31, 31, 30.5, 30.5, 30.5],
    "ON_A": [87, 60, 38, 33, 30, 27, 25, 23.5, 22.5, 21.5, 21, 20.5, 20, 19.5, 19, 18.5, 18.5, 18, 18, 18,
             17.5, 17.5, 17, 17, 17, 16.5, 16.5, 16, 16, 16, 15.5, 15.5, 15.5, 15, 15, 15, 15, 14.5, 14.5, 14.5,
             14.5, 14.5, 14.5, 14.5, 14.5, 14.5, 14.5, 14.5, 14.5, 14.5],
    "SE_C": [92, 45, 28, 20, 15, 12, 10, 8.5, 7.5, 6.5, 6, 5.5, 5, 4.5, 4.5, 4, 4, 4, 3.5, 3.5,
             3.5, 3.5, 3.5, 3, 3, 3, 3, 3, 3, 3, 3, 3, 3, 3, 3, 3, 3, 3, 3, 3,
             3, 3, 2.5, 2.5, 2.5, 2.5, 2.5, 2.5, 2.5, 2.5],
    "SS_C": [95, 60, 38, 30, 26, 23, 21, 19.5, 18, 17, 16, 15, 14, 13.5, 13, 12.5, 12, 11.5, 11, 11,
             10.5, 10.5, 10, 10, 10, 9.5, 9.5, 9.5, 9, 9, 9, 9, 8.5, 8.5, 8.5, 8, 8, 8, 8, 7.5,
             7.5, 7.5, 7.5, 7, 7, 7, 7, 7, 6.5, 6.5],
    "SN_C": [98, 70, 45, 36, 30, 26, 24, 22.5, 21.5, 20.5, 20, 19.5, 19, 18.5, 18, 17.5, 17.5, 17, 17, 16.5,
             16.5, 16, 16, 16, 15.5, 15.5, 15.5, 15, 15, 15, 15, 14.5, 14.5, 14.5, 14.5, 14.5, 14, 14, 14, 14,
             14, 14, 14, 14, 14, 14, 14, 14, 14, 14],
    "SE_A": [1, 0.8, 0.8, 0.8, 0.8, 0.8, 0.8, 0.8, 0.8, 0.8, 0.8, 0.8, 0.8, 0.8, 0.8, 0.8, 0.8, 0.8, 0.8, 0.8,
             0.5, 0.5, 0.5, 0.5, 0.5, 0.5, 0.5, 0.5, 0.5, 0.5, 0.5, 0.5, 0.5, 0.5, 0.5, 0.5, 0.5, 0.5, 0.5, 0.5,
             0.5, 0.5, 0.5, 0.5, 0.5, 0.5, 0.5, 0.5, 0.5, 0.5],
    "SS_A": [2, 1.5, 1.5, 1.5, 1.5, 1.5, 1.5, 1.5, 1.5, 1.5, 1.2, 1.2, 1.2, 1.2, 1.2, 1.2, 1.2, 1.2, 1.2, 1.2,
             1.2, 1.2, 1.2, 1.2, 1.2, 1.2, 1.2, 1.2, 1.2, 1.2, 1, 1, 1, 1, 1, 1, 1, 1, 1, 1,
             1, 1, 1, 1, 1, 1, 1, 1, 1, 1],
    "LE_C": [3.5, 3, 2.5, 2, 2, 1.5, 1.5, 1.5, 1, 1, 1, 1, 1, 1, 1, 1, 1, 1, 1, 1,
             1, 1, 1, 1, 1, 0.5, 0.5, 0.5, 0.5, 0.5, 0.5, 0.5, 0.5, 0.5, 0.5, 0.5, 0.5, 0.5, 0.5, 0.5,
             0.5, 0.5, 0.5, 0.5, 0.5, 0.5, 0.5, 0.5, 0.5, 0.5],
    "LN_C": [88, 75, 65, 60, 55, 52, 50, 48, 45, 43, 41, 39.5, 38, 37, 36, 35, 34, 33, 32.5, 32,
             31.5, 31, 30.5, 30, 29.5, 29, 28.5, 28, 27.5, 27, 26.5, 26, 25.5, 25, 25, 24.5, 24, 24, 23.5, 23.5,
             23, 23, 22.5, 22.5, 22, 22, 21.5, 21.5, 21, 21],
}

PANELS = [
    ("Car", "₂", P_CAR),
    ("Truck,¬Truck", "₂", P_TRUCK),
    ("Cat", "₄", P_CAT),
    ("Lake,Pasture", "₅", P_LAKE),
    ("AnnualCrop", "₃", P_ANNUAL3),
    ("PermaCrop,Highway", "₁", P_PERMA),
    ("AnnualCrop", "₅", P_ANNUAL5),
    ("River,AnnualCrop", "₃", P_RIVER),
    ("Deer,Car", "₄", P_DEERCAR),
    ("Equine,Car", "₁", P_EQUINE),
    ("Deer", "₁", P_DEER),
    ("Frog", "₁", P_FROG),
]

METHODS = [("O", "Ortho", "#FFA500"), ("S", "SpLiCE", "#BA55D3"), ("L", "LEACE", "#32CD32")]
VARIANTS = [("E", "XpEnum", "solid"), ("S", "XpSatEn.", "7px,3px"), ("N", "NaiveEn.", "2px,3.3px")]
KINDS = [("C", "CXps"), ("A", "AXps")]

COL_X = [(54, 298), (371, 615), (686, 931), (1003, 1246)]
ROW_Y = [(93, 334), (404, 646), (715, 957)]
FONT = "DejaVu Sans"

fig = go.Figure()
layout = dict(
    width=W, height=H, margin=dict(l=0, r=0, t=0, b=0, autoexpand=False),
    paper_bgcolor="white", plot_bgcolor="white",
    font=dict(family=FONT, size=11, color="black"),
    showlegend=True, hovermode=False,
)
annotations = []

for p, (title, sub, data) in enumerate(PANELS):
    r, c = divmod(p, 4)
    sfx = "" if p == 0 else str(p + 1)
    x0, x1 = COL_X[c]
    yt, yb = ROW_Y[r]
    common = dict(
        showline=True, mirror=True, linecolor="black", linewidth=1,
        ticks="outside", ticklen=3.5, tickwidth=1, tickcolor="black",
        showgrid=True, gridcolor="#d4d4d4", gridwidth=0.8, griddash="4px,2px",
        zeroline=False, automargin=False, tickfont=dict(size=11, family=FONT),
    )
    layout["xaxis" + sfx] = dict(
        domain=[x0 / W, x1 / W], anchor="y" + sfx, range=[-1.45, 52.45],
        tickvals=[0, 10, 20, 30, 40, 50],
        title=dict(text="Rank of Explanation", font=dict(size=11, family=FONT), standoff=4), **common)
    layout["yaxis" + sfx] = dict(
        domain=[1 - yb / H, 1 - yt / H], anchor="x" + sfx, range=[0, 1.05],
        tickvals=[0, 0.2, 0.4, 0.6, 0.8, 1.0], tickformat=".1f",
        title=dict(text="Individual Coverage", font=dict(size=11, family=FONT), standoff=5), **common)
    annotations.append(dict(
        text="<i>B</i><sub><i>M</i>" + sub + "</sub>(" + title + ")",
        x=(x0 + x1) / 2 / W, y=1 - yt / H, xref="paper", yref="paper",
        xanchor="center", yanchor="bottom", yshift=2, showarrow=False,
        font=dict(size=13, family=FONT, color="black")))

    for m, mname, color in METHODS:
        for k, kname in KINDS:
            for v, vname, dash in VARIANTS:
                key = m + v + "_" + k
                if key not in data:
                    continue
                ys = [val / 100 for val in data[key]]
                xs = list(range(1, len(ys) + 1))
                lc = color if k == "C" else "black"
                fig.add_trace(go.Scatter(
                    x=xs, y=ys, mode="lines", xaxis="x" + sfx, yaxis="y" + sfx,
                    line=dict(color=lc, width=2, dash=dash), showlegend=False, hoverinfo="skip"))
                if k == "A":
                    fig.add_trace(go.Scatter(
                        x=xs[::10], y=ys[::10], mode="markers", xaxis="x" + sfx, yaxis="y" + sfx,
                        marker=dict(color=color, size=8, line=dict(color="black", width=1)),
                        showlegend=False, hoverinfo="skip"))

# legend entries (row-wise: XpEnum row, XpSatEn. row, NaiveEn. row)
rank = 1
for v, vname, dash in VARIANTS:
    for m, mname, color in METHODS:
        for k, kname in KINDS:
            if k == "C":
                tr = go.Scatter(x=[None], y=[None], mode="lines",
                                line=dict(color=color, width=2, dash=dash))
            else:
                tr = go.Scatter(x=[None], y=[None], mode="lines+markers",
                                line=dict(color="black", width=2, dash=dash),
                                marker=dict(color=color, size=8, line=dict(color="black", width=1)))
            tr.update(name=f"{mname} {vname} {kname}", legendrank=rank, showlegend=True, hoverinfo="skip")
            fig.add_trace(tr)
            rank += 1

# legend frame (rounded box)
bx0, bx1, by0, by1, rr = 8, 1252, 3, 60, 4
def px(x):
    return x / W
def py(y):
    return 1 - y / H
frame = (f"M {px(bx0 + rr)} {py(by0)} L {px(bx1 - rr)} {py(by0)} "
         f"Q {px(bx1)} {py(by0)} {px(bx1)} {py(by0 + rr)} L {px(bx1)} {py(by1 - rr)} "
         f"Q {px(bx1)} {py(by1)} {px(bx1 - rr)} {py(by1)} L {px(bx0 + rr)} {py(by1)} "
         f"Q {px(bx0)} {py(by1)} {px(bx0)} {py(by1 - rr)} L {px(bx0)} {py(by0 + rr)} "
         f"Q {px(bx0)} {py(by0)} {px(bx0 + rr)} {py(by0)} Z")
layout["shapes"] = [dict(type="path", path=frame, xref="paper", yref="paper",
                         line=dict(color="#cccccc", width=1), fillcolor="white", layer="below")]

layout["annotations"] = annotations
layout["legend"] = dict(
    orientation="h", x=8 / W, y=1 + 2.5 / H, xanchor="left", yanchor="top",
    bgcolor="rgba(0,0,0,0)", borderwidth=0,
    font=dict(size=12, family=FONT, color="black"),
    itemwidth=44, entrywidth=148, traceorder="normal", tracegroupgap=0,
)
fig.update_layout(**layout)

fig.write_html("out.html", config={"displayModeBar": False},
               post_script="document.body.style.margin='0px';")
